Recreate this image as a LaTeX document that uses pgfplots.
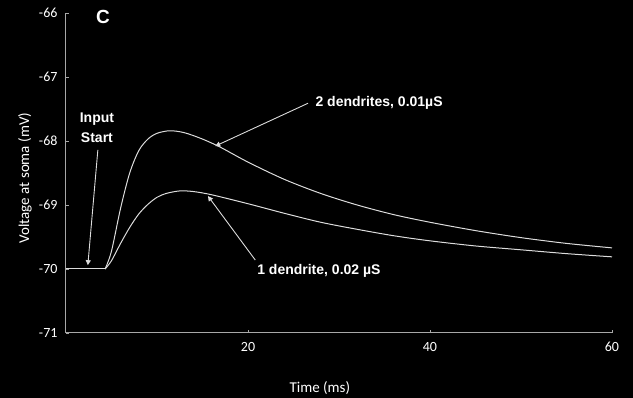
\documentclass[border=0pt]{standalone}
\usepackage{fontspec}
\setmainfont{Carlito}
\newfontfamily\annot{Liberation Sans}
\usepackage{pgfplots}
\pgfplotsset{compat=1.18}
\usetikzlibrary{backgrounds,calc,arrows.meta}
\definecolor{axgray}{HTML}{A8A8A8}
\definecolor{curve}{HTML}{DCDCDC}
\begin{document}
\begin{tikzpicture}
\begin{axis}[
  name=ax, scale only axis, width=546pt, height=320pt,
  xmin=0, xmax=60, ymin=-71, ymax=-66,
  axis x line=bottom, axis y line=left,
  axis line style={draw=axgray, line width=1pt, -},
  tick style={draw=axgray, line width=0.8pt},
  tick align=inside, major tick length=3pt,
  xtick={20,40,60}, xticklabels={20,40,60},
  ytick={-71,-70,-69,-68,-67,-66},
  yticklabels={-71,-70,-69,-68,-67,-66},
  ticklabel style={font=\fontsize{14}{16}\selectfont, text=white},
  x tick label style={yshift=-6pt},
  y tick label style={xshift=-5pt},
  clip=false,
]
\coordinate (o) at (axis cs:0,-71);
\addplot[draw=curve, line width=1pt] coordinates {(0,-70) (4.3,-70)};
\addplot[draw=curve, line width=1pt, smooth] coordinates {
(4.3,-70) (5,-69.72) (6,-69.05) (7,-68.5) (8,-68.15) (9,-67.97) (10,-67.88)
(11.4,-67.84) (13,-67.87) (15,-67.97) (17,-68.1) (20,-68.33) (24,-68.6)
(28,-68.82) (32,-69.0) (36,-69.15) (40,-69.27) (45,-69.40) (50,-69.51)
(55,-69.60) (60,-69.67)};
\addplot[draw=curve, line width=1pt, smooth] coordinates {
(4.3,-70) (5,-69.87) (6,-69.6) (7,-69.35) (8,-69.14) (9,-68.99) (10,-68.88)
(11,-68.82) (12.5,-68.78) (14,-68.79) (16,-68.84) (20,-68.98) (24,-69.13)
(28,-69.27) (32,-69.38) (36,-69.48) (40,-69.56) (45,-69.64) (50,-69.70)
(55,-69.76) (60,-69.81)};
% annotations
\draw[curve, line width=0.9pt, -{Triangle[width=5pt,length=5pt]}] (axis cs:3.5,-68.14) -- (axis cs:2.4,-69.94);
\draw[curve, line width=0.9pt, -{Triangle[width=5pt,length=5pt]}] (axis cs:26.6,-67.41) -- (axis cs:16.4,-68.08);
\draw[curve, line width=0.9pt, -{Triangle[width=5pt,length=5pt]}] (axis cs:20.8,-69.86) -- (axis cs:15.6,-68.86);
\node[font=\annot\bfseries\fontsize{14}{20}\selectfont, text=white, align=center] at (axis cs:3.4,-67.80) {Input\\Start};
\node[font=\annot\bfseries\fontsize{14}{16}\selectfont, text=white, anchor=west, inner sep=0pt] at (axis cs:27.4,-67.41) {2 dendrites, 0.01µS};
\node[font=\annot\bfseries\fontsize{14}{16}\selectfont, text=white, anchor=west, inner sep=0pt] at (axis cs:21.0,-70.03) {1 dendrite, 0.02 µS};
\node[font=\annot\bfseries\fontsize{19}{22}\selectfont, text=white] at (axis cs:4.07,-66.06) {C};
\node[font=\fontsize{15}{17}\selectfont, text=white] at (axis cs:27.9,-71.86) {Time (ms)};
\node[font=\fontsize{15}{17}\selectfont, text=white, rotate=90] at (axis cs:-4.5,-68.58) {Voltage at soma (mV)};
\end{axis}
\begin{scope}[on background layer]
\fill[black] ($(o)+(-66pt,-65pt)$) rectangle ++(633pt,398pt);
\end{scope}
\pgfresetboundingbox
\path[use as bounding box] ($(o)+(-66pt,-65pt)$) rectangle ++(633pt,398pt);
\end{tikzpicture}
\end{document}
